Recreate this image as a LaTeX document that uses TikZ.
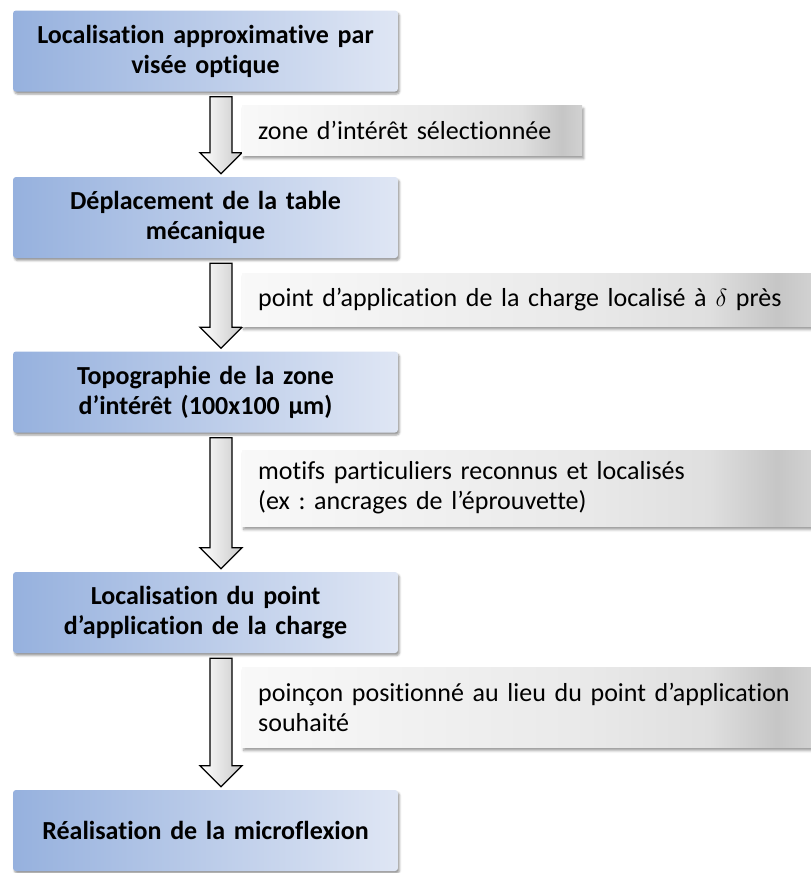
\documentclass[tikz,border=0pt]{standalone}
\usepackage{fontspec}
\setmainfont[Ligatures=NoCommon, WordSpace=0.82]{Carlito}
\frenchspacing
\usetikzlibrary{positioning, calc, shadows, shadows.blur}

\definecolor{etapegauche}{RGB}{150,177,222}
\definecolor{etapedroite}{RGB}{223,230,244}
\pgfdeclarehorizontalshading{legendeombre}{100bp}{color(0bp)=(gray!5); color(25bp)=(gray!5);
  color(55bp)=(gray!17); color(66bp)=(gray!25); color(72bp)=(gray!45); color(75bp)=(gray!36); color(100bp)=(gray!36)}

\tikzset{
  etape/.style={rectangle, rounded corners=3pt, minimum width=385pt, minimum height=81pt,
    left color=etapegauche, right color=etapedroite, text width=370pt, align=center,
    font=\fontsize{26}{30}\selectfont\bfseries,
    blur shadow={shadow xshift=1.5pt, shadow yshift=-2.5pt, shadow blur steps=4, shadow blur radius=2pt}},
  legende/.style={rectangle, shade, shading=legendeombre, anchor=west, align=left, inner xsep=16pt,
    font=\fontsize{26}{30}\selectfont,
    blur shadow={shadow xshift=1.5pt, shadow yshift=-3.5pt, shadow blur steps=4, shadow blur radius=2.5pt}},
  fleche/.style={draw=black, line width=1.3pt, line join=miter, left color=white, right color=gray!42}
}

% fleche bloc entre deux etapes
\newcommand{\blocfleche}[2]{%
  \draw[fleche] let \p1=(#1.south), \p2=(#2.north) in
    (\x1+4.5pt,\y1-5pt) -- (\x1+26.5pt,\y1-5pt) -- (\x1+26.5pt,\y2+24pt) -- (\x1+36.5pt,\y2+24pt)
    -- (\x1+15.5pt,\y2+3pt) -- (\x1-5.5pt,\y2+24pt) -- (\x1+4.5pt,\y2+24pt) -- cycle;}

\begin{document}
\begin{tikzpicture}[x=1pt, y=-1pt]
  \useasboundingbox (0,0) rectangle (811,873);
  % etapes
  \node[etape] (b1) at (205.5,51) {Localisation approximative par\\visée optique};
  \node[etape] (b2) at (205.5,217.5) {Déplacement de la table\\mécanique};
  \node[etape] (b3) at (205.5,392) {Topographie de la zone\\d’intérêt (100x100 µm)};
  \node[etape] (b4) at (205.5,612.5) {Localisation du point\\d’application de la charge};
  \node[etape] (b5) at (205.5,830.5) {Réalisation de la microflexion};
  % fleches
  \blocfleche{b1}{b2}
  \blocfleche{b2}{b3}
  \blocfleche{b3}{b4}
  \blocfleche{b4}{b5}
  % legendes
  \node[legende, minimum width=340pt, text width=308pt, minimum height=50pt] (l1) at (242,130)
       {zone d’intérêt sélectionnée};
  \node[legende, minimum width=569pt, text width=537pt, minimum height=53pt] (l2) at (242,299.5)
       {point d’application de la charge localisé à $\delta$ près};
  \node[legende, minimum width=569pt, text width=537pt, minimum height=76pt] (l3) at (242,488)
       {motifs particuliers reconnus et localisés\\(ex : ancrages de l’éprouvette)};
  \node[legende, minimum width=569pt, text width=537pt, minimum height=80pt] (l4) at (242,707)
       {poinçon positionné au lieu du point d’application\\souhaité};
\end{tikzpicture}
\end{document}
